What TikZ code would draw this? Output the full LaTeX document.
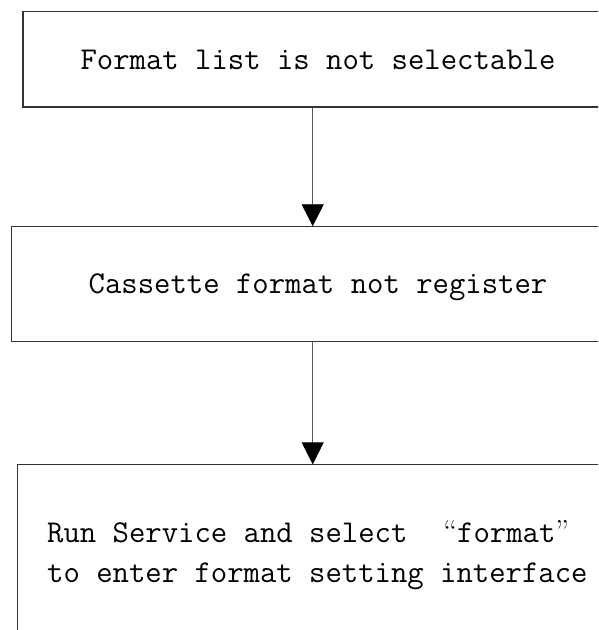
\documentclass[tikz,border=0pt]{standalone}
\usetikzlibrary{arrows.meta,positioning}

\begin{document}
\begin{tikzpicture}[x=1pt,y=-1pt,
  box/.style={draw=black!80,line width=1.1pt,inner sep=0pt,
    font=\ttfamily\fontsize{31.8}{40}\selectfont},
  flow/.style={draw=black!65,line width=0.9pt,
    -{Triangle[length=22pt,width=22pt,color=black]}}]
\useasboundingbox (0,0) rectangle (598,630);
\clip (0,0) rectangle (598,630);
% --- Boxes ---
\node[box,minimum width=590pt,minimum height=95.3pt,text depth=0pt] (notselect) at (318,59.35) {Format list is not selectable};
\node[box,minimum width=612.6pt,minimum height=114.3pt,text depth=0pt,below=118.7pt of notselect] (noregister) {Cassette format not register};
\node[box,minimum width=601.4pt,minimum height=180.6pt,align=left,below=122.7pt of noregister] (runservice) {Run Service and select~\makebox[1.05em][r]{\rmfamily “}format\makebox[1.05em][l]{\rmfamily ”}\\to enter format setting interface};

% --- Arrows ---
\draw[flow] ([xshift=-5.3pt]notselect.south) -- ([xshift=-5.3pt]noregister.north);
\draw[flow] ([xshift=-5.3pt]noregister.south) -- ([xshift=-5.3pt]runservice.north);
\end{tikzpicture}
\end{document}
